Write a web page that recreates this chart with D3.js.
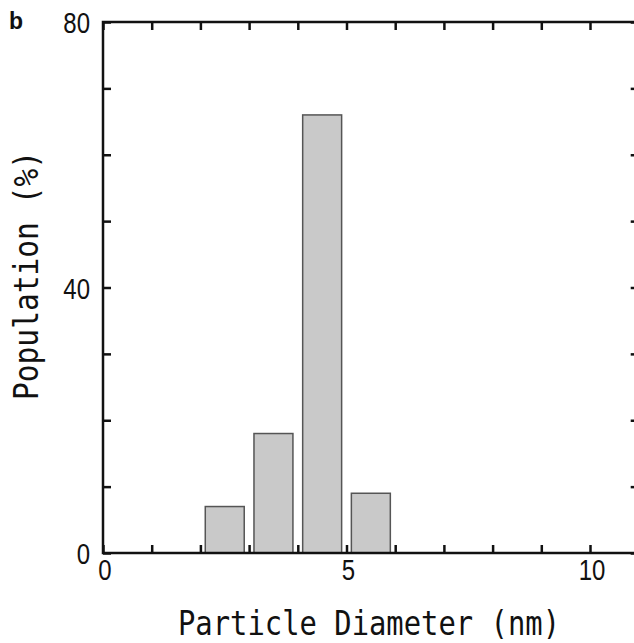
<!DOCTYPE html>
<html>
<head>
<meta charset="utf-8">
<script src="https://cdn.jsdelivr.net/npm/d3@7"></script>
<style>
  body { margin: 0; background: #fff; }
  svg { display: block; }
</style>
</head>
<body>
<svg id="chart" width="634" height="643"></svg>
<script>
// bin centres (nm) and population (%)
const binCenters = [2.5, 3.5, 4.5, 5.5];
const population = [7, 18, 66, 9];
const binWidth = 0.8;

const xTicks = d3.range(0, 12);
const xLabels = [0, 5, 10];
const yTicks = d3.range(0, 90, 10);
const yLabels = [0, 40, 80];

const svg = d3.select("#chart");

const x = d3.scaleLinear().domain([0, 11]).range([103, 638.7]);
const y = d3.scaleLinear().domain([0, 80]).range([553, 22]);

const ink = "#111";
const tickLen = 8;

// bars
svg.selectAll(".bar")
    .data(binCenters)
    .enter()
    .append("rect")
    .attr("class", "bar")
    .attr("x", d => x(d - binWidth / 2))
    .attr("width", d => x(d + binWidth / 2) - x(d - binWidth / 2))
    .attr("y", (d, i) => y(population[i]))
    .attr("height", (d, i) => y(0) - y(population[i]))
    .attr("fill", "#c9c9c9")
    .attr("stroke", "#555")
    .attr("stroke-width", 1.5);

// inward ticks on all four sides
function ticksOnly(axis, tx, ty) {
    const g = svg.append("g")
        .attr("transform", "translate(" + tx + "," + ty + ")")
        .call(axis);
    g.select(".domain").remove();
    g.selectAll("text").remove();
    g.selectAll("line").attr("stroke", ink).attr("stroke-width", 2.5);
    return g;
}
ticksOnly(d3.axisBottom(x).tickValues(xTicks).tickSize(-tickLen), 0, y(0));
ticksOnly(d3.axisTop(x).tickValues(xTicks).tickSize(-tickLen), 0, y(80));
ticksOnly(d3.axisLeft(y).tickValues(yTicks).tickSize(-tickLen), x(0), 0);
ticksOnly(d3.axisRight(y).tickValues(yTicks).tickSize(-tickLen), x(11), 0);

// frame
svg.append("rect")
    .attr("x", x(0))
    .attr("y", y(80))
    .attr("width", x(11) - x(0))
    .attr("height", y(0) - y(80))
    .attr("fill", "none")
    .attr("stroke", ink)
    .attr("stroke-width", 2.5);

// tick labels (narrow digits)
const digitFont = "'Liberation Sans', Arial, sans-serif";
svg.selectAll(".xlab")
    .data(xLabels)
    .enter()
    .append("text")
    .attr("class", "xlab")
    .attr("transform", d => "translate(" + (x(d) + 2) + ",580) scale(0.8,1)")
    .attr("text-anchor", "middle")
    .attr("font-family", digitFont)
    .attr("font-size", 30)
    .attr("fill", ink)
    .text(d => d);

svg.selectAll(".ylab")
    .data(yLabels)
    .enter()
    .append("text")
    .attr("class", "ylab")
    .attr("transform", d => "translate(90," + (y(d) + 11) + ") scale(0.8,1)")
    .attr("text-anchor", "end")
    .attr("font-family", digitFont)
    .attr("font-size", 30)
    .attr("fill", ink)
    .text(d => d);

// axis titles
const monoFont = "'DejaVu Sans Mono', 'Liberation Mono', monospace";
svg.append("text")
    .attr("x", 178)
    .attr("y", 635)
    .attr("font-family", monoFont)
    .attr("font-size", 33)
    .attr("textLength", 382)
    .attr("lengthAdjust", "spacingAndGlyphs")
    .attr("fill", ink)
    .text("Particle Diameter (nm)");

svg.append("text")
    .attr("transform", "translate(38,400) rotate(-90)")
    .attr("font-family", monoFont)
    .attr("font-size", 34)
    .attr("textLength", 249)
    .attr("lengthAdjust", "spacingAndGlyphs")
    .attr("fill", ink)
    .text("Population (%)");

// panel letter
svg.append("text")
    .attr("x", 9)
    .attr("y", 29)
    .attr("font-family", "'Liberation Sans', Arial, sans-serif")
    .attr("font-weight", "bold")
    .attr("font-size", 23)
    .attr("fill", ink)
    .text("b");
</script>
</body>
</html>
